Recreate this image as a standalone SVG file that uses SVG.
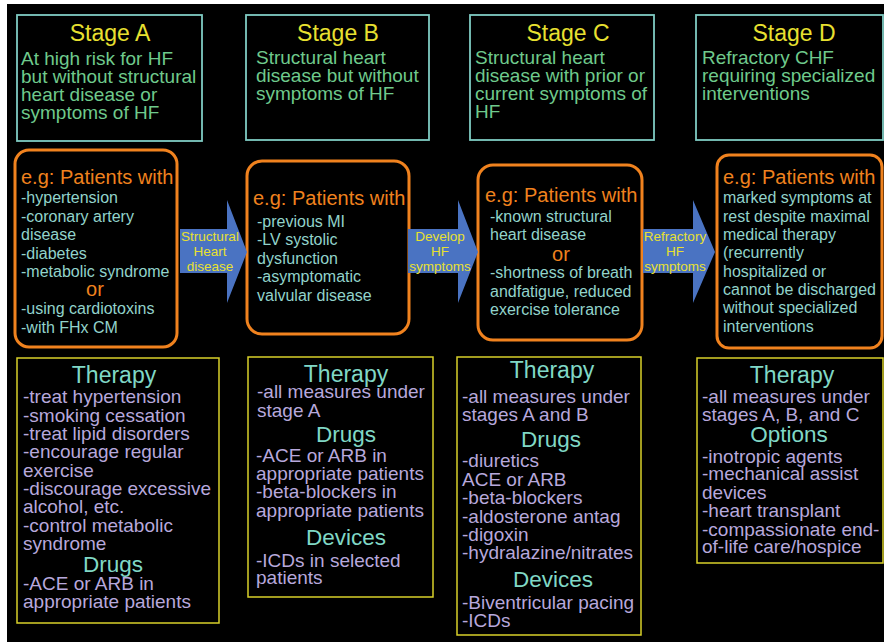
<svg xmlns="http://www.w3.org/2000/svg" width="884" height="642" viewBox="0 0 884 642">
<style>
text{font-family:"Liberation Sans",Arial,Helvetica,sans-serif}
.stage{fill:none;stroke:#7fcbc3;stroke-width:1.8}
.pat{fill:none;stroke:#f0821e;stroke-width:3}
.ther{fill:none;stroke:#d8d02a;stroke-width:1.5}
.st{fill:#e8e030;font-size:23px;text-anchor:middle}
.sb{fill:#6fca8c;font-size:19px}
.eg{fill:#f0821e;font-size:20px}
.or{fill:#f0821e;font-size:20px;text-anchor:middle}
.pb{fill:#92d3cb;font-size:16px}
.th{fill:#80d8c6;font-size:23px;text-anchor:middle}
.dh{fill:#80d8c6;font-size:22.5px;text-anchor:middle}
.tb{fill:#b7a8dc;font-size:19px}
.arr{fill:#4a73c2}
.al{fill:#e8e030;font-size:13.5px;text-anchor:middle}
</style>
<rect x="0" y="0" width="884" height="642" fill="#ffffff"/>
<rect x="7" y="4" width="877" height="638" fill="#000000"/>

<g id="stageA">
<rect class="stage" x="17" y="15" width="185" height="126"/>
<text class="st" x="110" y="41">Stage A</text>
<text class="sb"><tspan x="21" y="65">At high risk for HF</tspan><tspan x="21" y="83">but without structural</tspan><tspan x="21" y="101">heart disease or</tspan><tspan x="21" y="119">symptoms of HF</tspan></text>
</g>
<g id="stageB">
<rect class="stage" x="246" y="15" width="183" height="125"/>
<text class="st" x="338" y="41">Stage B</text>
<text class="sb"><tspan x="256" y="64">Structural heart</tspan><tspan x="256" y="82">disease but without</tspan><tspan x="256" y="100">symptoms of HF</tspan></text>
</g>
<g id="stageC">
<rect class="stage" x="470" y="15" width="184" height="125"/>
<text class="st" x="568" y="41">Stage C</text>
<text class="sb"><tspan x="475" y="64">Structural heart</tspan><tspan x="475" y="82">disease with prior or</tspan><tspan x="475" y="100">current symptoms of</tspan><tspan x="475" y="118">HF</tspan></text>
</g>
<g id="stageD">
<rect class="stage" x="696" y="15" width="187" height="125"/>
<text class="st" x="794" y="41">Stage D</text>
<text class="sb"><tspan x="702" y="64">Refractory CHF</tspan><tspan x="702" y="82">requiring specialized</tspan><tspan x="702" y="100">interventions</tspan></text>
</g>

<g id="patientsA">
<rect class="pat" x="15" y="150" width="162" height="197" rx="14"/>
<text class="eg" x="21" y="184">e.g: Patients with</text>
<text class="pb"><tspan x="21" y="203">-hypertension</tspan><tspan x="21" y="222">-coronary artery</tspan><tspan x="21" y="240">disease</tspan><tspan x="21" y="259">-diabetes</tspan><tspan x="21" y="277">-metabolic syndrome</tspan><tspan x="21" y="314">-using cardiotoxins</tspan><tspan x="21" y="333">-with FHx CM</tspan></text>
<text class="or" x="95" y="296">or</text>
</g>
<g id="patientsB">
<rect class="pat" x="247" y="161" width="162" height="173" rx="15"/>
<text class="eg" x="253" y="205">e.g: Patients with</text>
<text class="pb"><tspan x="257" y="227">-previous MI</tspan><tspan x="257" y="245">-LV systolic</tspan><tspan x="257" y="264">dysfunction</tspan><tspan x="257" y="282">-asymptomatic</tspan><tspan x="257" y="301">valvular disease</tspan></text>
</g>
<g id="patientsC">
<rect class="pat" x="478" y="165" width="164" height="175" rx="15"/>
<text class="eg" x="485" y="202">e.g: Patients with</text>
<text class="pb"><tspan x="490" y="222">-known structural</tspan><tspan x="490" y="240">heart disease</tspan><tspan x="490" y="278">-shortness of breath</tspan><tspan x="490" y="297">andfatigue, reduced</tspan><tspan x="490" y="315">exercise tolerance</tspan></text>
<text class="or" x="561" y="261">or</text>
</g>
<g id="patientsD">
<rect class="pat" x="717" y="155" width="165" height="193" rx="12"/>
<text class="eg" x="723" y="184">e.g: Patients with</text>
<text class="pb"><tspan x="723" y="203">marked symptoms at</tspan><tspan x="723" y="222">rest despite maximal</tspan><tspan x="723" y="240">medical therapy</tspan><tspan x="723" y="258">(recurrently</tspan><tspan x="723" y="277">hospitalized or</tspan><tspan x="723" y="295">cannot be discharged</tspan><tspan x="723" y="313">without specialized</tspan><tspan x="723" y="332">interventions</tspan></text>
</g>

<g id="therapyA">
<rect class="ther" x="17" y="358" width="202" height="265"/>
<text class="th" x="114" y="383">Therapy</text>
<text class="tb"><tspan x="23" y="403">-treat hypertension</tspan><tspan x="23" y="422">-smoking cessation</tspan><tspan x="23" y="440">-treat lipid disorders</tspan><tspan x="23" y="458">-encourage regular</tspan><tspan x="23" y="477">exercise</tspan><tspan x="23" y="495">-discourage excessive</tspan><tspan x="23" y="513">alcohol, etc.</tspan><tspan x="23" y="532">-control metabolic</tspan><tspan x="23" y="550">syndrome</tspan></text>
<text class="dh" x="113" y="572">Drugs</text>
<text class="tb"><tspan x="23" y="590">-ACE or ARB in</tspan><tspan x="23" y="608">appropriate patients</tspan></text>
</g>
<g id="therapyB">
<rect class="ther" x="248" y="357" width="185" height="240"/>
<text class="th" x="346" y="382">Therapy</text>
<text class="tb"><tspan x="257" y="398">-all measures under</tspan><tspan x="257" y="417">stage A</tspan></text>
<text class="dh" x="346" y="442">Drugs</text>
<text class="tb"><tspan x="256" y="462">-ACE or ARB in</tspan><tspan x="256" y="480">appropriate patients</tspan><tspan x="256" y="498">-beta-blockers in</tspan><tspan x="256" y="517">appropriate patients</tspan></text>
<text class="dh" x="346" y="545">Devices</text>
<text class="tb"><tspan x="256" y="567">-ICDs in selected</tspan><tspan x="256" y="584">patients</tspan></text>
</g>
<g id="therapyC">
<rect class="ther" x="457" y="357" width="184" height="278"/>
<text class="th" x="552" y="378">Therapy</text>
<text class="tb"><tspan x="462" y="403">-all measures under</tspan><tspan x="462" y="421">stages A and B</tspan></text>
<text class="dh" x="551" y="447">Drugs</text>
<text class="tb"><tspan x="462" y="467">-diuretics</tspan><tspan x="462" y="486">ACE or ARB</tspan><tspan x="462" y="504">-beta-blockers</tspan><tspan x="462" y="523">-aldosterone antag</tspan><tspan x="462" y="541">-digoxin</tspan><tspan x="462" y="559">-hydralazine/nitrates</tspan></text>
<text class="dh" x="553" y="587">Devices</text>
<text class="tb"><tspan x="462" y="609">-Biventricular pacing</tspan><tspan x="462" y="627">-ICDs</tspan></text>
</g>
<g id="therapyD">
<rect class="ther" x="697" y="358" width="186" height="205"/>
<text class="th" x="792" y="383">Therapy</text>
<text class="tb"><tspan x="702" y="403">-all measures under</tspan><tspan x="702" y="421">stages A, B, and C</tspan></text>
<text class="dh" x="789" y="442">Options</text>
<text class="tb"><tspan x="702" y="463">-inotropic agents</tspan><tspan x="702" y="480">-mechanical assist</tspan><tspan x="702" y="499">devices</tspan><tspan x="702" y="517">-heart transplant</tspan><tspan x="702" y="536">-compassionate end-</tspan><tspan x="702" y="553">of-life care/hospice</tspan></text>
</g>

<g id="connectors">
<g id="arrowAB">
<polygon class="arr" points="180,229 227,229 227,200 247,252 227,303 227,273 180,273"/>
<text class="al"><tspan x="210" y="241">Structural</tspan><tspan x="210" y="256">Heart</tspan><tspan x="210" y="271">disease</tspan></text>
</g>
<g id="arrowBC">
<polygon class="arr" points="408,229 458,229 458,200 478,252 458,303 458,273 408,273"/>
<text class="al"><tspan x="440" y="241">Develop</tspan><tspan x="440" y="256">HF</tspan><tspan x="440" y="271">symptoms</tspan></text>
</g>
<g id="arrowCD">
<polygon class="arr" points="643,229 693,229 693,200 715,252 693,303 693,273 643,273"/>
<text class="al"><tspan x="675" y="241">Refractory</tspan><tspan x="675" y="256">HF</tspan><tspan x="675" y="271">symptoms</tspan></text>
</g>
</g>
</svg>
